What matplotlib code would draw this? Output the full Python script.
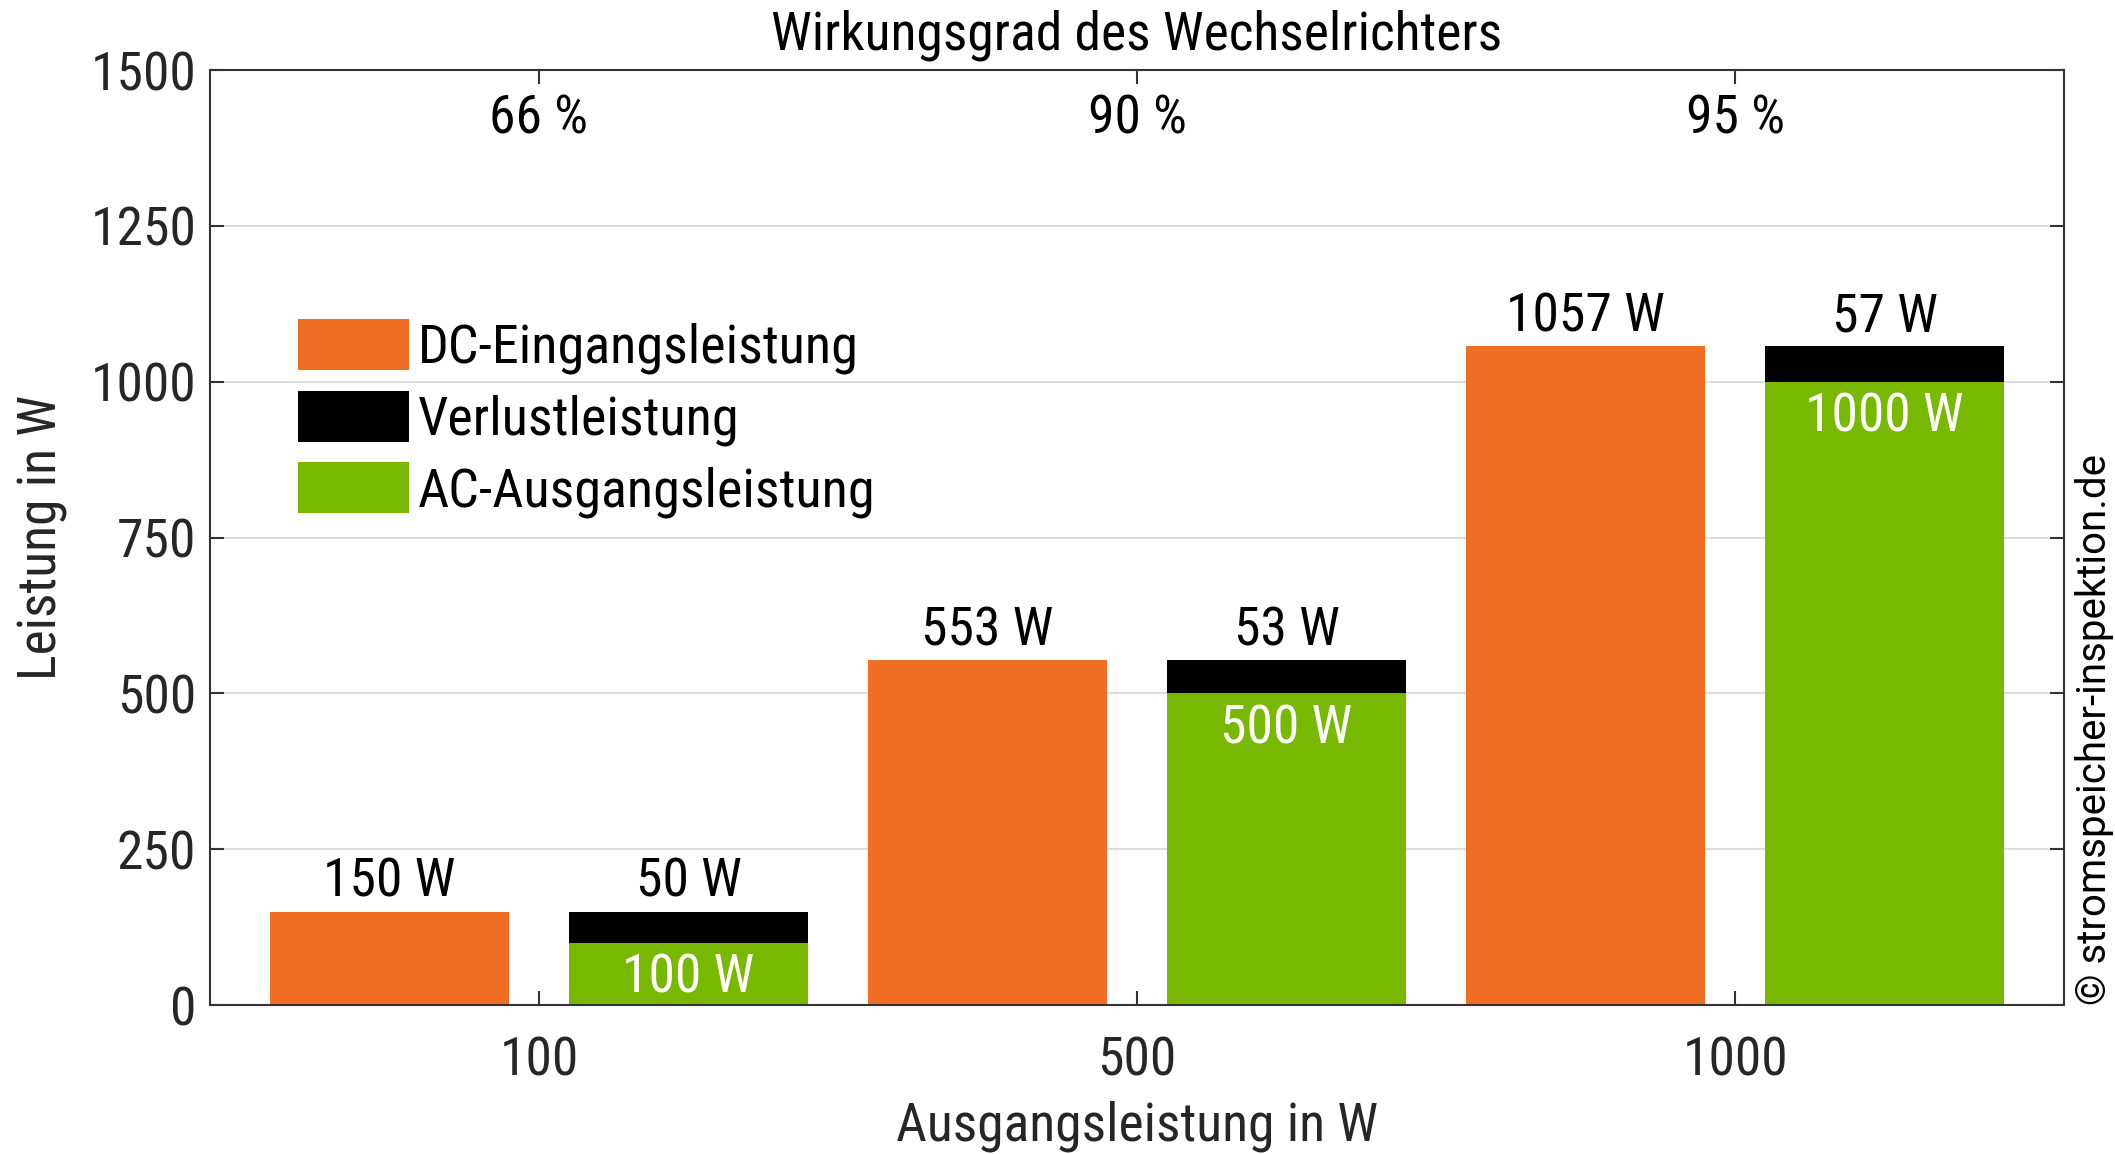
import matplotlib
matplotlib.use("Agg")
import matplotlib.pyplot as plt
import matplotlib.transforms as mtransforms
from matplotlib.font_manager import fontManager
import numpy as np

# Data
categories = ["100", "500", "1000"]
dc_input = [150, 553, 1057]
ac_output = [100, 500, 1000]
losses = [50, 53, 57]
efficiency = ["66 %", "90 %", "95 %"]

ORANGE = "#F16D24"
GREEN = "#78B900"
BLACK = "#000000"

names = {f.name for f in fontManager.ttflist}
cond = "Roboto Condensed" if "Roboto Condensed" in names else "Roboto"
plt.rcParams["font.family"] = [cond, "DejaVu Sans"]
plt.rcParams["font.size"] = 38.5
if cond == "Roboto":
    plt.rcParams["font.stretch"] = "condensed"

fig = plt.figure(figsize=(21.15, 11.54), dpi=100)
ax = fig.add_axes([0.0993, 0.1291, 0.9759 - 0.0993, 0.9393 - 0.1291])

x = np.arange(len(categories))
w = 0.4
b1 = ax.bar(x - 0.25, dc_input, w, color=ORANGE, label="DC-Eingangsleistung", zorder=2)
b3 = ax.bar(x + 0.25, ac_output, w, color=GREEN, label="AC-Ausgangsleistung", zorder=2)
b2 = ax.bar(x + 0.25, losses, w, bottom=ac_output, color=BLACK, label="Verlustleistung", zorder=2)

for xi, v in zip(x, dc_input):
    ax.annotate(f"{v} W", (xi - 0.25, v), xytext=(0, 3), textcoords="offset points",
                ha="center", va="bottom", color="black")
for xi, a, l in zip(x, ac_output, losses):
    ax.annotate(f"{l} W", (xi + 0.25, a + l), xytext=(0, 3), textcoords="offset points",
                ha="center", va="bottom", color="black")
    ax.annotate(f"{a} W", (xi + 0.25, a), xytext=(0, -7), textcoords="offset points",
                ha="center", va="top", color="white")

# efficiency labels just below the top spine
trans = mtransforms.blended_transform_factory(ax.transData, ax.transAxes)
for xi, e in zip(x, efficiency):
    ax.text(xi, 0.975, e, transform=trans, ha="center", va="top", color="black")

ax.set_xlim(-0.55, 2.55)
ax.set_ylim(0, 1500)
ax.set_yticks([0, 250, 500, 750, 1000, 1250, 1500])
ax.set_xticks(x)
ax.set_xticklabels(categories)
ax.tick_params(direction="in", top=True, right=True, length=10, width=1.5,
               colors="#333333", labelcolor="#262626", pad=10)
ax.tick_params(axis="x", pad=22)
for s in ax.spines.values():
    s.set_color("#333333")
    s.set_linewidth(1.5)
ax.yaxis.grid(True, color="#DDDDDD", linewidth=1.5, zorder=0)
ax.set_axisbelow(True)

ax.set_xlabel("Ausgangsleistung in W", color="#262626", labelpad=10)
ax.set_ylabel("Leistung in W", color="#262626", labelpad=16)
ax.set_title("Wirkungsgrad des Wechselrichters", color="black", fontsize=38.5, pad=15)

ax.legend(handles=[b1, b2, b3], loc="upper left", bbox_to_anchor=(0.036, 0.757),
          frameon=False, fontsize=39, handlelength=2.05, handleheight=1.07,
          labelspacing=0.3, handletextpad=0.15, borderaxespad=0)

fig.text(0.9905, 0.129, "© stromspeicher-inspektion.de", rotation=90, ha="center",
         va="bottom", fontsize=29, family=["Roboto", "DejaVu Sans"], color="black",
         fontstretch="normal")

fig.savefig("out.png", dpi=100)
